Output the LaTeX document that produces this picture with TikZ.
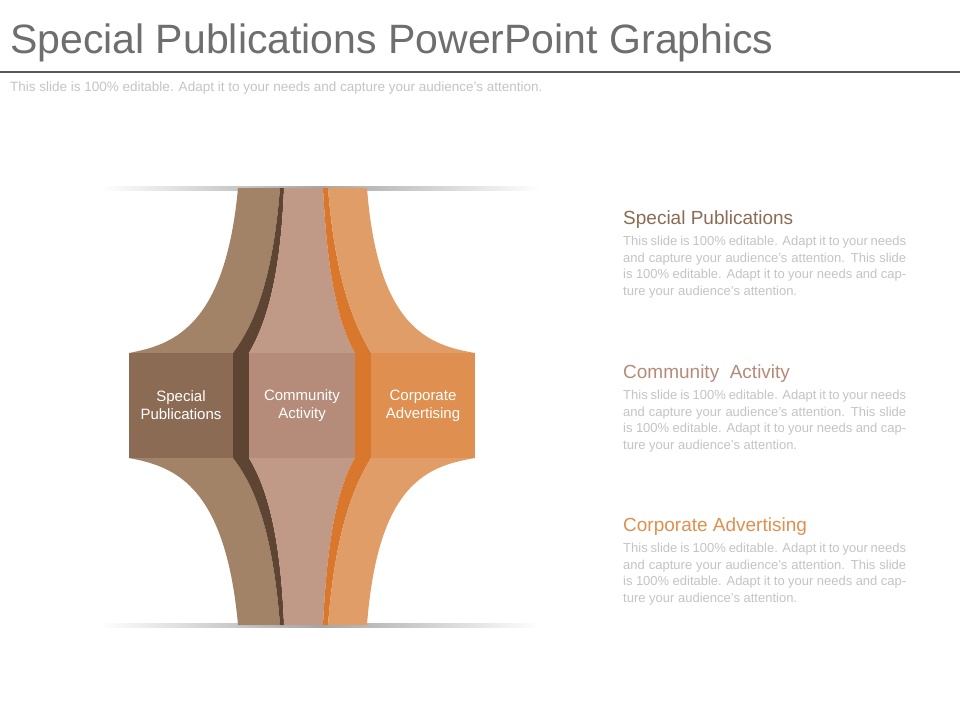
\documentclass[tikz,border=0pt]{standalone}
\usepackage{fontspec}
\setmainfont{Liberation Sans}
\usepackage{xcolor}
\usepackage{tikz}
\usetikzlibrary{positioning}
\definecolor{spband}{HTML}{A38367}
\definecolor{spbox}{HTML}{8B6B53}
\definecolor{spdark}{HTML}{5E4533}
\definecolor{caband}{HTML}{C19A87}
\definecolor{cabox}{HTML}{B58B79}
\definecolor{coband}{HTML}{E09D68}
\definecolor{cobox}{HTML}{DF8F4F}
\definecolor{costrip}{HTML}{D9782D}
\definecolor{titlegray}{HTML}{6E6E6E}
\definecolor{bodygray}{HTML}{C4C4C4}
\begin{document}
\begin{tikzpicture}[x=1pt,y=-1pt,
    box/.style={minimum width=104pt,minimum height=105pt,inner sep=0pt,
      text=white,align=center,font=\fontsize{15}{18}\selectfont},
    heading/.style={anchor=north west,inner sep=0pt,font=\fontsize{19}{22}\selectfont},
    body/.style={anchor=north west,inner sep=0pt,text width=283pt,align=justify,
      text=bodygray,font=\fontsize{13}{16.5}\selectfont}]
  \useasboundingbox[fill=white] (0,0) rectangle (960,720);
  % title
  \node[anchor=west,inner sep=0pt,text=titlegray,font=\fontsize{41}{46}\selectfont] (title) at (10,43) {Special Publications PowerPoint Graphics};
  \draw[line width=2pt,titlegray!80!black] (0,72) -- (960,72);
  \node[anchor=west,inner sep=0pt,text=bodygray,font=\fontsize{13.5}{16}\selectfont] (sub) at (10,88) {This slide is 100\% editable. Adapt it to your needs and capture your audience's attention.};
  % shadows
  \shade[left color=white,right color=white,middle color=black!35] (100,186) rectangle (540,190);
  \shade[left color=white,right color=white,middle color=black!35] (100,623) rectangle (540,627);
  % bands
  \fill[spband] (238,188) .. controls (225,330) and (170,345) .. (129,353) -- (129,458)
    .. controls (170,466) and (225,480) .. (238,625) -- (280,625)
    .. controls (272,520) and (250,480) .. (233,458) -- (233,353)
    .. controls (250,330) and (272,290) .. (280,188) -- cycle;
  \fill[spdark] (280,188) .. controls (272,290) and (250,330) .. (233,353) -- (233,458)
    .. controls (250,480) and (272,520) .. (280,625) -- (284,625)
    .. controls (280,520) and (262,480) .. (249,458) -- (249,353)
    .. controls (262,330) and (280,290) .. (284,188) -- cycle;
  \fill[caband] (284,188) .. controls (280,290) and (262,330) .. (249,353) -- (249,458)
    .. controls (262,480) and (280,520) .. (284,625) -- (323,625)
    .. controls (328,520) and (342,480) .. (355,458) -- (355,353)
    .. controls (342,330) and (328,290) .. (323,188) -- cycle;
  \fill[costrip] (323,188) .. controls (328,290) and (342,330) .. (355,353) -- (355,458)
    .. controls (342,480) and (328,520) .. (323,625) -- (328,625)
    .. controls (336,520) and (358,480) .. (371,458) -- (371,353)
    .. controls (358,330) and (336,290) .. (328,188) -- cycle;
  \fill[coband] (328,188) .. controls (336,290) and (358,330) .. (371,353) -- (475,353)
    .. controls (430,345) and (378,330) .. (367,188) -- cycle;
  \fill[coband] (328,625) .. controls (336,520) and (358,480) .. (371,458) -- (475,458)
    .. controls (430,466) and (378,480) .. (367,625) -- cycle;
  % boxes
  \node[box,fill=spbox] (spb) at (181,405.5) {Special\\Publications};
  \node[box,fill=cabox,minimum width=106pt] (cab) at (302,405.5) {Community\\Activity};
  \node[box,fill=cobox] (cob) at (423,405.5) {Corporate\\Advertising};
  % text blocks
  \node[heading,text=spbox] (sph) at (623,211) {Special Publications};
  \node[body,below=7pt of sph.south west,anchor=north west] (spt) {This slide is 100\% editable. Adapt it to your needs and capture your audience's attention. This slide is 100\% editable. Adapt it to your needs and capture your audience's attention.};
  \node[heading,text=cabox] (cah) at (623,365) {Community\ \ Activity};
  \node[body,below=7pt of cah.south west,anchor=north west] (cat) {This slide is 100\% editable. Adapt it to your needs and capture your audience's attention. This slide is 100\% editable. Adapt it to your needs and capture your audience's attention.};
  \node[heading,text=cobox] (coh) at (623,518) {Corporate Advertising};
  \node[body,below=7pt of coh.south west,anchor=north west] (cot) {This slide is 100\% editable. Adapt it to your needs and capture your audience's attention. This slide is 100\% editable. Adapt it to your needs and capture your audience's attention.};
\end{tikzpicture}
\end{document}
